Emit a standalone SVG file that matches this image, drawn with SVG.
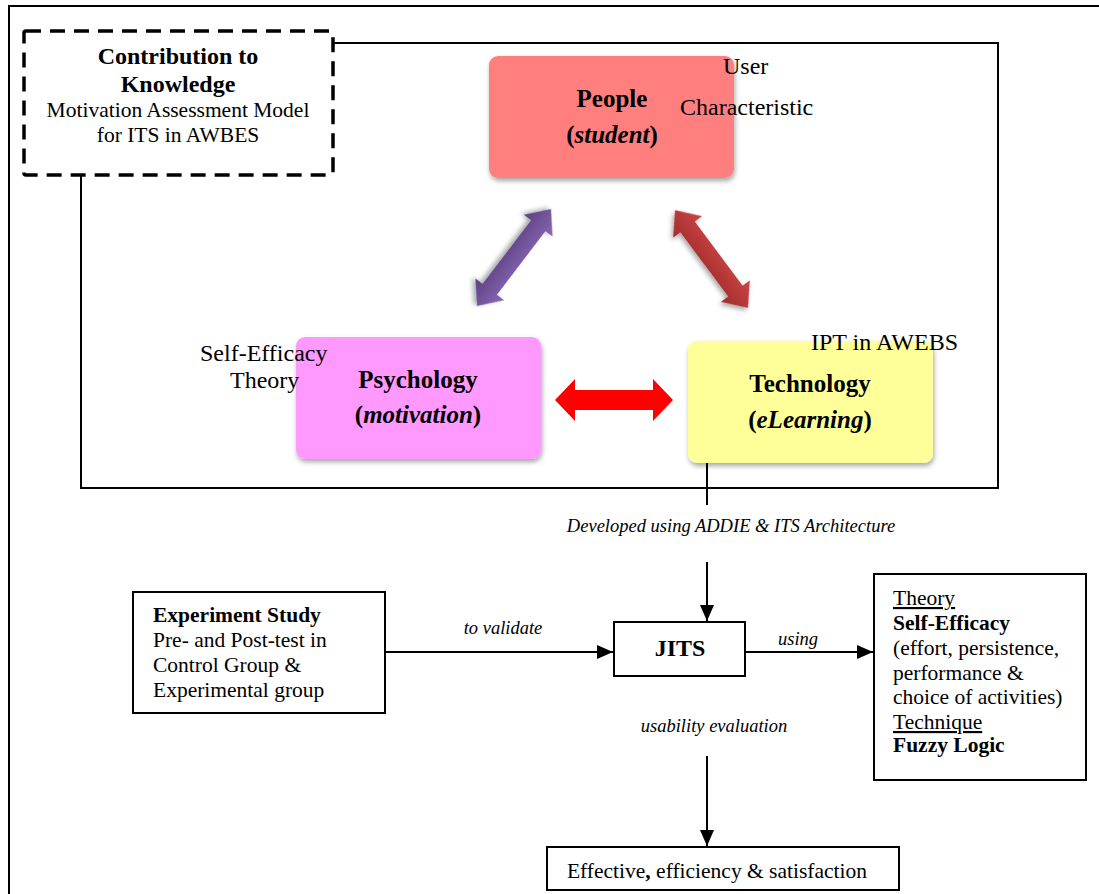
<svg xmlns="http://www.w3.org/2000/svg" width="1099" height="894" viewBox="0 0 1099 894">
<defs>
<style>
text{font-family:"Liberation Serif","Times New Roman",serif;fill:#000}
.b{font-weight:bold}
.i{font-style:italic}
.box{fill:#fff;stroke:#000;stroke-width:2}
.line{stroke:#000;stroke-width:2;fill:none}
.body{font-size:21.5px}
.lbl{font-size:18.5px;font-style:italic}
.big{font-size:24px}
.node{font-size:25px;font-weight:bold}
</style>
<filter id="sh" x="-10%" y="-10%" width="130%" height="130%">
<feDropShadow dx="1" dy="3" stdDeviation="2.5" flood-color="#000" flood-opacity="0.35"/>
</filter>
<linearGradient id="gp" x1="0" y1="0" x2="0" y2="1">
<stop offset="0" stop-color="#8A68B4"/><stop offset="1" stop-color="#5A4080"/>
</linearGradient>
<linearGradient id="gr" x1="0" y1="0" x2="0" y2="1">
<stop offset="0" stop-color="#CE4444"/><stop offset="1" stop-color="#A02C2C"/>
</linearGradient>
<marker id="ah2" viewBox="0 0 16 14" refX="16" refY="7" markerWidth="16" markerHeight="14" markerUnits="userSpaceOnUse" orient="auto">
<path d="M0,0 L16,7 L0,14 Z" fill="#000"/>
</marker>
</defs>
<rect width="1099" height="894" fill="#fff"/>

<g id="frame">
<path class="line" d="M9,894 L9,6 L1099,6"/>
<path class="line" d="M334,43 L998,43 L998,488 L81,488 L81,176"/>
</g>

<g id="contribution">
<rect x="24" y="31" width="309" height="144" fill="#fff" stroke="#000" stroke-width="3.5" stroke-dasharray="15,9" rx="2"/>
<text x="178" y="64" text-anchor="middle" class="big b">Contribution to</text>
<text x="178" y="92" text-anchor="middle" class="big b">Knowledge</text>
<text x="178" y="117" text-anchor="middle" class="body">Motivation Assessment Model</text>
<text x="178" y="142" text-anchor="middle" class="body">for ITS in AWBES</text>
</g>

<g id="people">
<rect x="489" y="56" width="245" height="122" rx="9" fill="#FF7F7F" filter="url(#sh)"/>
<text x="612" y="107" text-anchor="middle" class="node">People</text>
<text x="612" y="143" text-anchor="middle" class="node">(<tspan class="i">student</tspan>)</text>
</g>
<text x="723" y="74" class="big">User</text>
<text x="680" y="115" class="big">Characteristic</text>

<g id="psychology">
<rect x="296" y="337" width="245" height="122" rx="9" fill="#FF99FF" filter="url(#sh)"/>
<text x="418" y="388" text-anchor="middle" class="node">Psychology</text>
<text x="418" y="423" text-anchor="middle" class="node">(<tspan class="i">motivation</tspan>)</text>
</g>
<text x="200" y="361" class="big">Self-Efficacy</text>
<text x="230" y="388" class="big">Theory</text>

<g id="technology">
<rect x="688" y="341" width="245" height="122" rx="9" fill="#FFFF99" filter="url(#sh)"/>
<text x="810" y="392" text-anchor="middle" class="node">Technology</text>
<text x="810" y="428" text-anchor="middle" class="node">(<tspan class="i">eLearning</tspan>)</text>
</g>
<text x="811" y="350" class="big">IPT in AWEBS</text>

<g id="block-arrows">
<g transform="translate(514,257.5) rotate(127.3)" filter="url(#sh)">
<polygon points="-61,0 -40,-18 -40,-9 40,-9 40,-18 61,0 40,18 40,9 -40,9 -40,18" fill="url(#gp)"/>
</g>
<g transform="translate(711.5,259) rotate(53.3)" filter="url(#sh)">
<polygon points="-61,0 -40,-18 -40,-9 40,-9 40,-18 61,0 40,18 40,9 -40,9 -40,18" fill="url(#gr)"/>
</g>
<g transform="translate(614,400)">
<polygon points="-59,0 -39,-21 -39,-10 39,-10 39,-21 59,0 39,21 39,10 -39,10 -39,21" fill="#FF0000"/>
</g>
</g>

<g id="jits">
<rect class="box" x="614" y="622" width="131" height="54"/>
<text x="680" y="656" text-anchor="middle" class="big b">JITS</text>
</g>

<g id="experiment">
<rect class="box" x="133" y="592" width="252" height="121"/>
<text x="153" y="622" class="body b">Experiment Study</text>
<text x="153" y="647" class="body">Pre- and Post-test in</text>
<text x="153" y="672" class="body">Control Group &amp;</text>
<text x="153" y="697" class="body">Experimental group</text>
</g>

<g id="theory">
<rect class="box" x="874" y="574" width="212" height="206"/>
<text x="893" y="605" class="body" text-decoration="underline">Theory</text>
<text x="893" y="630" class="body b">Self-Efficacy</text>
<text x="893" y="655" class="body">(effort, persistence,</text>
<text x="893" y="680" class="body">performance &amp;</text>
<text x="893" y="704" class="body">choice of activities)</text>
<text x="893" y="729" class="body" text-decoration="underline">Technique</text>
<text x="893" y="752" class="body b">Fuzzy Logic</text>
</g>

<g id="outcome">
<rect class="box" x="547" y="847" width="352" height="43"/>
<text x="717" y="878" text-anchor="middle" class="body">Effective<tspan class="b">,</tspan> efficiency &amp; satisfaction</text>
</g>

<g id="connectors">
<line class="line" x1="707" y1="463" x2="707" y2="505"/>
<line class="line" x1="707" y1="562" x2="707" y2="621" marker-end="url(#ah2)"/>
<line class="line" x1="385" y1="652" x2="613" y2="652" marker-end="url(#ah2)"/>
<line class="line" x1="745" y1="652" x2="873" y2="652" marker-end="url(#ah2)"/>
<line class="line" x1="707" y1="756" x2="707" y2="846" marker-end="url(#ah2)"/>
<text x="731" y="532" text-anchor="middle" class="lbl">Developed using ADDIE &amp; ITS Architecture</text>
<text x="503" y="634" text-anchor="middle" class="lbl">to validate</text>
<text x="798" y="645" text-anchor="middle" class="lbl">using</text>
<text x="714" y="732" text-anchor="middle" class="lbl">usability evaluation</text>
</g>
</svg>
